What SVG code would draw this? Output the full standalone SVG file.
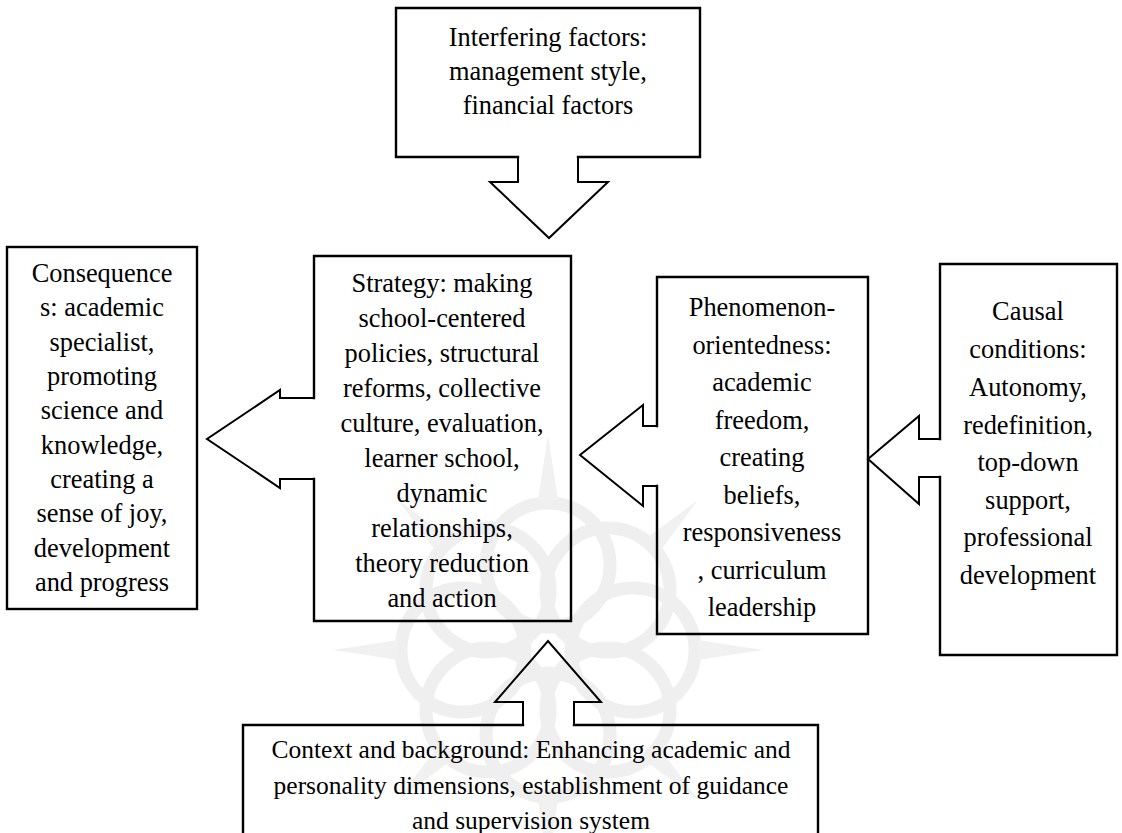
<svg xmlns="http://www.w3.org/2000/svg" width="1122" height="833" viewBox="0 0 1122 833">
<style>
.bg{fill:#fff}
.wm{fill:none;stroke:#efefef;stroke-width:13}
.wmp{fill:#f1f1f1;stroke:none}
.box{fill:none;stroke:#000;stroke-width:2.4;stroke-linejoin:miter;stroke-linecap:square}
.arr{fill:none;stroke:#000;stroke-width:2;stroke-linejoin:miter;stroke-linecap:square}
text{font-family:"Liberation Serif","Times New Roman",serif;font-size:26.4px;fill:#000;text-anchor:middle}
text.sm{font-size:25.5px}
</style>
<rect class="bg" x="0" y="0" width="1122" height="833"/>
<g id="watermark">
<g transform="translate(548,650)">
<circle class="wm" cx="0" cy="-85" r="62"/>
<circle class="wm" cx="60" cy="-60" r="62"/>
<circle class="wm" cx="85" cy="0" r="62"/>
<circle class="wm" cx="60" cy="60" r="62"/>
<circle class="wm" cx="0" cy="85" r="62"/>
<circle class="wm" cx="-60" cy="60" r="62"/>
<circle class="wm" cx="-85" cy="0" r="62"/>
<circle class="wm" cx="-60" cy="-60" r="62"/>
<path class="wmp" d="M-10,-150 L0,-215 L10,-150 Z M-10,150 L0,215 L10,150 Z M-150,-10 L-215,0 L-150,10 Z M150,-10 L215,0 L150,10 Z M100,-113 L150,-150 L113,-100 Z M-100,-113 L-150,-150 L-113,-100 Z M100,113 L150,150 L113,100 Z M-100,113 L-150,150 L-113,100 Z"/>
</g>
</g>
<g id="connectors">
<path class="arr" d="M518,157 V182 H490 L549,238 L608,182 H578 V157"/>
<path class="arr" d="M314,398 H280 V390 L207,439 L280,488 V479 H314"/>
<path class="arr" d="M657,426 H643 V405 L580,455 L643,506 V486 H657"/>
<path class="arr" d="M940,439 H919 V416 L868,459 L919,504 V477 H940"/>
<path class="arr" d="M523,725 V702 H495 L548,641 L601,702 H574 V725"/>
</g>
<g id="interfering">
<path class="box" d="M518,157 H396 V8 H700 V157 H578"/>
<text><tspan x="548" y="46">Interfering factors:</tspan><tspan x="548" y="80">management style,</tspan><tspan x="548" y="114">financial factors</tspan></text>
</g>
<g id="consequences">
<rect class="box" x="7" y="247" width="190" height="362"/>
<text><tspan x="102" y="282">Consequence</tspan><tspan x="102" y="316">s: academic</tspan><tspan x="102" y="351">specialist,</tspan><tspan x="102" y="385">promoting</tspan><tspan x="102" y="419">science and</tspan><tspan x="102" y="454">knowledge,</tspan><tspan x="102" y="488">creating a</tspan><tspan x="102" y="522">sense of joy,</tspan><tspan x="102" y="557">development</tspan><tspan x="102" y="591">and progress</tspan></text>
</g>
<g id="strategy">
<path class="box" d="M314,398 V256 H571 V621 H314 V479"/>
<text><tspan x="442" y="292">Strategy: making</tspan><tspan x="442" y="327">school-centered</tspan><tspan x="442" y="362">policies, structural</tspan><tspan x="442" y="397">reforms, collective</tspan><tspan x="442" y="432">culture, evaluation,</tspan><tspan x="442" y="467">learner school,</tspan><tspan x="442" y="502">dynamic</tspan><tspan x="442" y="537">relationships,</tspan><tspan x="442" y="572">theory reduction</tspan><tspan x="442" y="607">and action</tspan></text>
</g>
<g id="phenomenon">
<path class="box" d="M657,426 V277 H868 V634 H657 V486"/>
<text><tspan x="762" y="316">Phenomenon-</tspan><tspan x="762" y="354">orientedness:</tspan><tspan x="762" y="391">academic</tspan><tspan x="762" y="429">freedom,</tspan><tspan x="762" y="466">creating</tspan><tspan x="762" y="504">beliefs,</tspan><tspan x="762" y="541">responsiveness</tspan><tspan x="762" y="579">, curriculum</tspan><tspan x="762" y="616">leadership</tspan></text>
</g>
<g id="causal">
<path class="box" d="M940,439 V264 H1117 V655 H940 V477"/>
<text><tspan x="1028" y="320">Causal</tspan><tspan x="1028" y="358">conditions:</tspan><tspan x="1028" y="396">Autonomy,</tspan><tspan x="1028" y="434">redefinition,</tspan><tspan x="1028" y="471">top-down</tspan><tspan x="1028" y="509">support,</tspan><tspan x="1028" y="546">professional</tspan><tspan x="1028" y="584">development</tspan></text>
</g>
<g id="context">
<path class="box" d="M523,725 H243 V845 H818 V725 H574"/>
<text class="sm"><tspan x="531" y="758">Context and background: Enhancing academic and</tspan><tspan x="531" y="794">personality dimensions, establishment of guidance</tspan><tspan x="531" y="829">and supervision system</tspan></text>
</g>
</svg>
